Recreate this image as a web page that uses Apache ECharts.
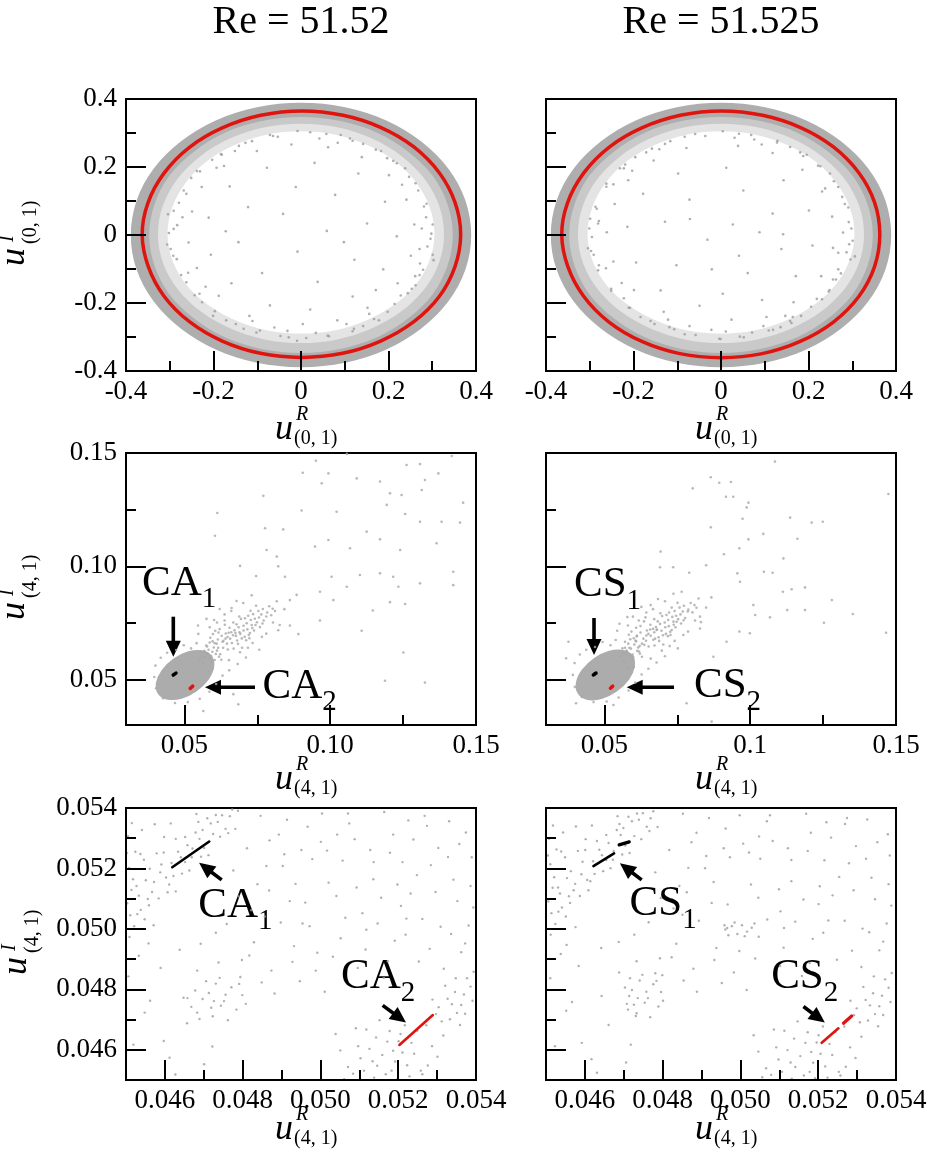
<!DOCTYPE html>
<html>
<head>
<meta charset="utf-8">
<script src="https://cdn.jsdelivr.net/npm/echarts@6/dist/echarts.min.js"></script>
<style>
html, body { margin: 0; padding: 0; background: #fff; }
#chart { width: 928px; height: 1159px; }
</style>
</head>
<body>
<div id="chart"></div>
<script>
// ---------- Titles ----------
const reynolds = ['51.52', '51.525'];

// ---------- Axis extents and ticks ----------
const ringRange = [-0.4, 0.4];
const ringMajor = [-0.4, -0.2, 0, 0.2, 0.4];
const ringMinor = [-0.3, -0.1, 0.1, 0.3];
const ringLabels = ['-0.4', '-0.2', '0', '0.2', '0.4'];

const midRange = [0.03, 0.15];
const midMajor = [0.05, 0.10, 0.15];
const midMinor = [0.075, 0.125];
const midLabelsLeft = ['0.05', '0.10', '0.15'];
const midLabelsRight = ['0.05', '0.1', '0.15'];

const zoomRange = [0.045, 0.054];
const zoomMajor = [0.046, 0.048, 0.050, 0.052, 0.054];
const zoomMinor = [0.047, 0.049, 0.051, 0.053];
const zoomLabels = ['0.046', '0.048', '0.050', '0.052', '0.054'];

// ---------- Top row: projection on (u(0,1)R, u(0,1)I) ----------
// edges of the dense trajectory band (same for both Re)
const ringOuter = [[0.389,0],[0.376,0.101],[0.337,0.195],[0.275,0.275],[0.195,0.337],[0.101,0.376],[0,0.389],[-0.101,0.376],[-0.195,0.337],[-0.275,0.275],[-0.337,0.195],[-0.376,0.101],[-0.389,0],[-0.376,-0.101],[-0.337,-0.195],[-0.275,-0.275],[-0.195,-0.337],[-0.101,-0.376],[0,-0.389],[0.101,-0.376],[0.195,-0.337],[0.275,-0.275],[0.337,-0.195],[0.376,-0.101]];
const ringInner = [[0.347,0],[0.335,0.090],[0.301,0.174],[0.245,0.245],[0.174,0.301],[0.090,0.335],[0,0.347],[-0.090,0.335],[-0.174,0.301],[-0.245,0.245],[-0.301,0.174],[-0.335,0.090],[-0.347,0],[-0.335,-0.090],[-0.301,-0.174],[-0.245,-0.245],[-0.174,-0.301],[-0.090,-0.335],[0,-0.347],[0.090,-0.335],[0.174,-0.301],[0.245,-0.245],[0.301,-0.174],[0.335,-0.090]];
const speckMid = [[0.327,0],[0.316,0.085],[0.283,0.164],[0.231,0.231],[0.164,0.283],[0.085,0.316],[0,0.327],[-0.085,0.316],[-0.164,0.283],[-0.231,0.231],[-0.283,0.164],[-0.316,0.085],[-0.327,0],[-0.315,-0.084],[-0.281,-0.161],[-0.228,-0.226],[-0.160,-0.276],[-0.083,-0.307],[0,-0.318],[0.083,-0.307],[0.160,-0.276],[0.228,-0.226],[0.281,-0.161],[0.315,-0.084]];
const speckIn = [[0.305,0],[0.295,0.079],[0.264,0.153],[0.216,0.216],[0.153,0.264],[0.079,0.295],[0,0.305],[-0.079,0.295],[-0.153,0.264],[-0.216,0.216],[-0.264,0.153],[-0.295,0.079],[-0.305,0],[-0.293,-0.078],[-0.260,-0.150],[-0.209,-0.209],[-0.146,-0.253],[-0.076,-0.281],[0,-0.290],[0.076,-0.281],[0.146,-0.253],[0.209,-0.209],[0.260,-0.150],[0.293,-0.078]];
// periodic orbits
const orbitTL = [[0.365,0.002],[0.352,0.096],[0.316,0.183],[0.258,0.259],[0.183,0.316],[0.096,0.352],[0.002,0.365],[-0.092,0.352],[-0.180,0.315],[-0.255,0.258],[-0.313,0.182],[-0.350,0.094],[-0.363,0.001],[-0.349,-0.093],[-0.313,-0.180],[-0.255,-0.255],[-0.180,-0.312],[-0.093,-0.348],[0.001,-0.360],[0.095,-0.348],[0.182,-0.312],[0.258,-0.255],[0.316,-0.181],[0.352,-0.093]];
const orbitTR = [[0.363,0.002],[0.351,0.096],[0.315,0.183],[0.257,0.259],[0.182,0.316],[0.095,0.352],[0.001,0.365],[-0.093,0.352],[-0.181,0.315],[-0.256,0.258],[-0.314,0.182],[-0.351,0.094],[-0.364,0.001],[-0.350,-0.093],[-0.314,-0.180],[-0.256,-0.256],[-0.181,-0.313],[-0.094,-0.349],[0.000,-0.361],[0.094,-0.349],[0.181,-0.313],[0.257,-0.256],[0.315,-0.181],[0.351,-0.093]];
const dotsTL = [[0.021,0.302],[-0.064,0.291],[0.112,0.284],[-0.142,0.262],[0.183,0.247],[-0.203,0.221],[0.238,0.196],[-0.251,0.168],[0.268,0.131],[-0.279,0.095],[0.286,0.052],[-0.291,0.018],[0.289,-0.034],[-0.284,-0.071],[0.271,-0.118],[-0.262,-0.139],[0.244,-0.171],[-0.226,-0.198],[0.198,-0.226],[-0.171,-0.251],[0.142,-0.268],[-0.102,-0.287],[0.061,-0.296],[-0.028,-0.301],[0.004,-0.262],[0.083,-0.251],[-0.118,-0.238],[0.152,-0.214],[-0.188,-0.179],[0.221,-0.142],[-0.238,-0.097],[0.251,-0.061],[-0.257,-0.022],[0.259,0.031],[-0.249,0.069],[0.241,0.104],[-0.227,0.141],[0.201,0.176],[-0.176,0.203],[0.139,0.229],[-0.101,0.247],[0.062,0.258],[-0.022,0.266],[0.031,0.212],[-0.078,0.198],[0.131,0.181],[-0.163,0.143],[0.192,0.098],[-0.211,0.051],[0.219,-0.004],[-0.206,-0.058],[0.188,-0.101],[-0.159,-0.142],[0.118,-0.181],[-0.071,-0.207],[0.021,-0.219],[-0.012,0.141],[0.078,0.118],[-0.121,0.082],[0.151,0.034],[-0.143,-0.021],[0.122,-0.073],[-0.089,-0.112],[0.038,-0.138],[-0.041,0.062],[0.059,0.012],[-0.008,-0.049],[0.098,-0.021],[-0.172,0.011],[0.171,-0.162],[-0.262,0.121],[0.281,0.084],[-0.298,-0.041],[0.272,-0.084],[-0.232,-0.173],[0.178,-0.251],[-0.131,-0.276],[0.034,-0.288],[-0.053,0.289],[0.091,0.294],[-0.183,0.238],[0.211,0.218],[-0.271,0.052],[0.298,0.004],[0.262,-0.148],[-0.201,-0.238],[0.118,-0.283],[-0.009,-0.311],[0.142,0.268],[-0.112,0.276],[0.247,0.171],[-0.238,0.188],[0.301,-0.058],[-0.304,0.061],
[0.287,0.092],[0.301,0.031],[0.296,-0.011],[0.279,-0.102],[0.253,-0.158],[0.214,-0.203],[0.167,-0.247],[0.121,-0.276],[0.064,-0.298],[0.012,-0.303],[-0.047,-0.297],[-0.094,-0.281],[-0.149,-0.262],[-0.197,-0.224],[-0.243,-0.177],[-0.274,-0.118],[-0.292,-0.061],[-0.302,0.006],[-0.291,0.071],[-0.268,0.131],[-0.231,0.187],[-0.181,0.236],[-0.127,0.271],[-0.071,0.294],[-0.008,0.306],[0.058,0.297],[0.118,0.277],[0.171,0.251],[0.219,0.211],[0.262,0.152],[0.276,0.019],[0.261,-0.121],[0.228,-0.178],[-0.061,-0.272],[-0.218,-0.152],[-0.283,0.029],[-0.193,0.198],[0.084,0.271],[0.231,0.148],[0.156,-0.232],[-0.031,-0.282],[0.271,-0.041],[-0.258,-0.111],[0.197,0.226],[-0.151,0.247],[0.104,-0.262],[-0.111,-0.253],[0.042,0.284],[0.303,-0.074],[-0.306,-0.028]];
const dotsTR = [[0.041,0.298],[-0.083,0.289],[0.129,0.277],[-0.158,0.254],[0.196,0.236],[-0.219,0.207],[0.249,0.181],[-0.262,0.151],[0.277,0.112],[-0.284,0.077],[0.292,0.038],[-0.295,-0.006],[0.287,-0.051],[-0.279,-0.089],[0.263,-0.131],[-0.251,-0.158],[0.231,-0.189],[-0.211,-0.214],[0.183,-0.238],[-0.152,-0.262],[0.119,-0.279],[-0.083,-0.292],[0.043,-0.299],[-0.004,-0.305],[0.024,-0.249],[0.104,-0.241],[-0.131,-0.226],[0.166,-0.198],[-0.199,-0.162],[0.229,-0.121],[-0.246,-0.078],[0.256,-0.038],[-0.261,0.008],[0.254,0.054],[-0.243,0.091],[0.231,0.128],[-0.212,0.161],[0.186,0.192],[-0.154,0.219],[0.118,0.241],[-0.079,0.256],[0.039,0.262],[0.012,0.198],[-0.098,0.181],[0.143,0.161],[-0.178,0.121],[0.201,0.072],[-0.214,0.024],[0.209,-0.031],[-0.194,-0.081],[0.171,-0.121],[-0.138,-0.163],[0.094,-0.191],[-0.049,-0.208],[0.004,-0.173],[0.051,0.131],[-0.072,0.104],[0.118,0.063],[-0.128,0.039],[0.138,-0.041],[-0.102,-0.089],[0.061,-0.112],[-0.021,-0.101],[0.027,0.031],[-0.031,-0.014],[0.088,0.008],[-0.071,0.047],[0.164,-0.241],[-0.246,0.149],[0.283,0.091],[-0.291,-0.058],[0.268,-0.101],[-0.222,-0.186],[0.161,-0.259],[-0.118,-0.271],[0.071,-0.287],[-0.036,0.291],[0.076,0.281],[-0.196,0.229],[0.222,0.204],[-0.281,0.034],[0.301,-0.017],[0.248,-0.162],[-0.184,-0.241],[0.136,-0.271],[0.011,-0.284],[0.158,0.259],[-0.128,0.268],[0.258,0.158],[-0.231,0.196],[0.296,-0.072],[-0.299,0.048],[0.142,0.002],[0.041,-0.061],
[0.291,0.081],[0.298,0.019],[0.293,-0.027],[0.274,-0.113],[0.246,-0.166],[0.206,-0.211],[0.158,-0.253],[0.109,-0.281],[0.052,-0.301],[-0.001,-0.306],[-0.058,-0.294],[-0.107,-0.277],[-0.161,-0.253],[-0.208,-0.214],[-0.251,-0.164],[-0.281,-0.104],[-0.297,-0.047],[-0.301,0.019],[-0.287,0.083],[-0.262,0.142],[-0.222,0.196],[-0.171,0.243],[-0.116,0.276],[-0.059,0.297],[0.004,0.305],[0.069,0.294],[0.128,0.272],[0.181,0.243],[0.227,0.202],[0.268,0.141],[0.279,0.007],[0.256,-0.131],[0.219,-0.188],[-0.072,-0.268],[-0.227,-0.141],[-0.279,0.041],[-0.203,0.189],[0.093,0.266],[0.238,0.137],[0.147,-0.238],[-0.022,-0.279],[0.268,-0.052],[-0.263,-0.098],[0.188,0.232],[-0.141,0.252],[0.097,-0.268],[-0.121,-0.249],[0.031,0.286],[0.306,-0.063],[-0.304,-0.039]];

// ---------- Middle row: projection on (u(4,1)R, u(4,1)I) ----------
// outline of the dense core of the cloud
const blobML = [[0.05921,0.06018],[0.05990,0.05563],[0.05798,0.05016],[0.05397,0.04518],[0.04899,0.04204],[0.04433,0.04160],[0.04125,0.04394],[0.04059,0.04848],[0.04248,0.05395],[0.04649,0.05894],[0.05146,0.06207],[0.05616,0.06252]];
const blobMR = [[0.05950,0.06050],[0.06010,0.05580],[0.05820,0.05020],[0.05410,0.04510],[0.04900,0.04190],[0.04430,0.04150],[0.04120,0.04400],[0.04060,0.04870],[0.04260,0.05420],[0.04670,0.05920],[0.05170,0.06230],[0.05640,0.06270]];
const tailML = [[0.0557,0.0623],[0.0712,0.0674],[0.0634,0.0671],[0.0781,0.0779],[0.0598,0.0701],[0.0689,0.0709],[0.0746,0.0826],[0.0583,0.0537],[0.0661,0.0709],[0.0725,0.0706],[0.0617,0.0708],[0.0803,0.0813],[0.0571,0.0599],[0.0698,0.0641],[0.0642,0.0704],[0.0759,0.0732],[0.0589,0.0685],[0.0677,0.0693],[0.0736,0.0789],[0.0623,0.0612],[0.0817,0.0846],[0.0604,0.0587],[0.0668,0.0752],[0.0731,0.0741],[0.0575,0.0651],[0.0694,0.0768],[0.0649,0.0633],[0.0772,0.0761],[0.0611,0.0659],[0.0703,0.0717],[0.0563,0.0571],[0.0754,0.0803],[0.0628,0.0694],[0.0684,0.0658],[0.0719,0.0782],[0.0596,0.0623],[0.0657,0.0681],[0.0791,0.0824],[0.0639,0.0742],[0.0707,0.0689],[0.0581,0.0614],[0.0742,0.0769],[0.0669,0.0637],[0.0615,0.0677],[0.0728,0.0763],[0.0553,0.0589],[0.0686,0.0731],[0.0646,0.0659],[0.0764,0.0788],[0.0601,0.0642],[0.0714,0.0749],[0.0672,0.0718],[0.0627,0.0588],[0.0739,0.0717],[0.0587,0.0664],[0.0697,0.0682],[0.0655,0.0729],[0.0769,0.0812],[0.0608,0.0613],[0.0721,0.0697],[0.0641,0.0681],[0.0784,0.0796],[0.0569,0.0627],[0.0679,0.0744],[0.0633,0.0641],[0.0749,0.0753],[0.0593,0.0578],[0.0708,0.0771],[0.0663,0.0662],[0.0621,0.0723],[0.0733,0.0728],[0.0578,0.0646],[0.0692,0.0702],[0.0652,0.0707],[0.0798,0.0784],[0.0612,0.0628],[0.0727,0.0804],[0.0681,0.0673],[0.0638,0.0761],[0.0756,0.0774],[0.0561,0.0604],[0.0703,0.0738],[0.0667,0.0696],[0.0619,0.0601],[0.0744,0.0741],[0.0597,0.0669],[0.0716,0.0722],[0.0648,0.0688],[0.0811,0.0803],[0.0586,0.0593],[0.0688,0.0779],[0.0631,0.0667],[0.0768,0.0748],[0.0606,0.0716],[0.0723,0.0683],[0.0675,0.0706],[0.0542,0.0661],[0.0523,0.0638],[0.0498,0.0652],[0.0472,0.0631],[0.0441,0.0619],[0.0419,0.0597],[0.0401,0.0562],[0.0397,0.0512],[0.0403,0.0462],[0.0427,0.0418],[0.0468,0.0397],[0.0512,0.0401],[0.0553,0.0416],[0.0586,0.0447],[0.0609,0.0481],[0.0631,0.0518],[0.0654,0.0541],[0.0683,0.0569],[0.0711,0.0598],[0.0757,0.0632],[0.0662,0.0816],[0.0602,0.0763],[0.0548,0.0702],[0.0827,0.0741],[0.0862,0.0851],
[0.0612,0.0752],[0.0661,0.0803],[0.0702,0.0838],[0.0587,0.0731],[0.0638,0.0788],[0.0691,0.0621],[0.0734,0.0662],[0.0781,0.0703],[0.0822,0.0718],[0.0653,0.0586],[0.0596,0.0548],[0.0718,0.0641],[0.0766,0.0689],[0.0804,0.0752],[0.0547,0.0739],[0.0576,0.0768],[0.0621,0.0812],[0.0679,0.0847],[0.0731,0.0872],[0.0843,0.0811],[0.0583,0.0632],[0.0604,0.0661],[0.0592,0.0604],[0.0571,0.0618],[0.0616,0.0641]];
const sparseML = [[0.1057,0.1496],[0.0951,0.1466],[0.0906,0.1413],[0.0994,0.1410],[0.1091,0.1388],[0.0971,0.1366],[0.1262,0.1447],[0.1308,0.1451],[0.1371,0.1410],[0.1417,0.1487],[0.1325,0.1381],[0.1171,0.1374],[0.1205,0.1322],[0.1245,0.1315],[0.1194,0.1271],[0.1456,0.1281],[0.1314,0.1337],[0.0771,0.1311],[0.0613,0.1235],[0.0605,0.1135],[0.0902,0.1246],[0.1022,0.1241],[0.1257,0.1231],[0.1308,0.1197],[0.1382,0.1197],[0.1445,0.1193],[0.0777,0.1168],[0.0839,0.1163],[0.1125,0.1153],[0.1171,0.1119],[0.0994,0.1116],[0.0948,0.1087],[0.1365,0.1102],[0.1068,0.1080],[0.0782,0.1072],[0.0817,0.1043],[0.1240,0.1072],[0.0691,0.1002],[0.0746,0.0957],[0.1005,0.0954],[0.1102,0.0962],[0.1171,0.0969],[0.1216,0.0954],[0.1234,0.0910],[0.1308,0.0925],[0.1422,0.0976],[0.1422,0.0917],[0.0885,0.0874],[0.0965,0.0888],[0.1011,0.0851],[0.1057,0.0910],[0.1205,0.0842],[0.1257,0.0834],[0.1146,0.0805],[0.0965,0.0761],[0.0862,0.0739],[0.0891,0.0701],[0.1108,0.0716],[0.1251,0.0620],[0.1188,0.0495],[0.1325,0.0487],[0.0685,0.0391],[0.0565,0.0362],[0.0668,0.0436],[0.0822,0.1000],[0.0845,0.0954]];
const tailMR = [[0.0562,0.0638],[0.0718,0.0692],[0.0629,0.0659],[0.0786,0.0801],[0.0593,0.0712],[0.0681,0.0721],[0.0751,0.0839],[0.0579,0.0551],[0.0667,0.0724],[0.0731,0.0719],[0.0612,0.0694],[0.0809,0.0829],[0.0574,0.0613],[0.0702,0.0655],[0.0646,0.0717],[0.0763,0.0748],[0.0584,0.0698],[0.0674,0.0681],[0.0741,0.0803],[0.0619,0.0624],[0.0823,0.0858],[0.0599,0.0601],[0.0671,0.0767],[0.0737,0.0756],[0.0571,0.0667],[0.0698,0.0781],[0.0652,0.0646],[0.0777,0.0772],[0.0607,0.0673],[0.0709,0.0731],[0.0566,0.0584],[0.0758,0.0818],[0.0624,0.0708],[0.0688,0.0671],[0.0722,0.0796],[0.0591,0.0637],[0.0659,0.0694],[0.0796,0.0838],[0.0636,0.0757],[0.0711,0.0702],[0.0577,0.0627],[0.0746,0.0782],[0.0672,0.0651],[0.0611,0.0691],[0.0733,0.0777],[0.0556,0.0602],[0.0691,0.0746],[0.0643,0.0672],[0.0769,0.0801],[0.0603,0.0655],[0.0719,0.0763],[0.0677,0.0732],[0.0629,0.0601],[0.0744,0.0731],[0.0589,0.0678],[0.0701,0.0696],[0.0658,0.0742],[0.0773,0.0826],[0.0613,0.0627],[0.0726,0.0711],[0.0644,0.0695],[0.0788,0.0809],[0.0571,0.0641],[0.0683,0.0757],[0.0637,0.0654],[0.0753,0.0767],[0.0596,0.0592],[0.0713,0.0785],[0.0668,0.0676],[0.0624,0.0737],[0.0738,0.0742],[0.0582,0.0659],[0.0696,0.0716],[0.0657,0.0721],[0.0802,0.0797],[0.0616,0.0642],[0.0731,0.0818],[0.0686,0.0687],[0.0641,0.0775],[0.0761,0.0788],[0.0564,0.0618],[0.0707,0.0752],[0.0671,0.0709],[0.0622,0.0615],[0.0748,0.0755],[0.0601,0.0683],[0.0721,0.0736],[0.0651,0.0702],[0.0816,0.0817],[0.0588,0.0607],[0.0692,0.0793],[0.0634,0.0681],[0.0772,0.0762],[0.0609,0.0729],[0.0727,0.0697],[0.0679,0.0719],[0.0539,0.0675],[0.0521,0.0652],[0.0494,0.0666],[0.0468,0.0644],[0.0438,0.0632],[0.0416,0.0611],[0.0398,0.0573],[0.0392,0.0521],[0.0399,0.0468],[0.0423,0.0424],[0.0463,0.0401],[0.0508,0.0404],[0.0549,0.0421],[0.0583,0.0452],[0.0606,0.0487],[0.0628,0.0523],[0.0651,0.0548],[0.0679,0.0576],[0.0708,0.0603],[0.0752,0.0638],[0.0659,0.0829],[0.0598,0.0778],[0.0544,0.0716],[0.0831,0.0754],[0.0867,0.0863],
[0.0618,0.0761],[0.0667,0.0811],[0.0708,0.0846],[0.0581,0.0739],[0.0644,0.0796],[0.0697,0.0628],[0.0741,0.0671],[0.0787,0.0712],[0.0828,0.0726],[0.0659,0.0593],[0.0601,0.0556],[0.0724,0.0648],[0.0771,0.0697],[0.0811,0.0761],[0.0552,0.0747],[0.0579,0.0776],[0.0627,0.0821],[0.0684,0.0856],[0.0737,0.0879],[0.0849,0.0818],[0.0586,0.0641],[0.0609,0.0669],[0.0597,0.0611],[0.0576,0.0626],[0.0621,0.0648]];
const sparseMR = [[0.1085,0.1462],[0.0803,0.1344],[0.0865,0.1393],[0.0894,0.1369],[0.0934,0.1372],[0.0917,0.1307],[0.0942,0.1307],[0.0994,0.1281],[0.0988,0.1260],[0.0974,0.1210],[0.0865,0.1172],[0.1137,0.1215],[0.1211,0.1193],[0.1249,0.1197],[0.1474,0.1319],[0.1045,0.1143],[0.1162,0.1122],[0.0994,0.1119],[0.0963,0.1080],[0.0910,0.1053],[0.1114,0.1035],[0.0693,0.1065],[0.0691,0.0996],[0.0736,0.0996],[0.0791,0.0972],[0.0849,0.1005],[0.1047,0.0976],[0.1077,0.0972],[0.0956,0.0969],[0.0965,0.0932],[0.1112,0.0888],[0.1142,0.0899],[0.1188,0.0907],[0.1280,0.0851],[0.1188,0.0807],[0.1127,0.0807],[0.1068,0.0775],[0.1011,0.0829],[0.1017,0.0785],[0.0999,0.0705],[0.0963,0.0712],[0.0919,0.0667],[0.1253,0.0751],[0.1352,0.0790],[0.1466,0.0707],[0.0874,0.0601],[0.0868,0.0315],[0.0377,0.0667],[0.0369,0.0594],[0.0403,0.0396],[0.0531,0.0388],[0.0782,0.0396],[0.0828,0.0778],[0.0765,0.0888]];

// ---------- Attractors (black) and saddles (red) ----------
const ca1 = [[0.04619,0.05204],[0.04714,0.05289]];
const ca2 = [[0.05203,0.04616],[0.05289,0.04715]];
const cs1 = [[[0.04622,0.05208],[0.04675,0.05250]], [[0.04688,0.05278],[0.04714,0.05288]]];
const cs2 = [[[0.05209,0.04623],[0.05252,0.04671]], [[0.05265,0.04688],[0.05286,0.04712]]];

// ---------- Bottom row: close-up ----------
const dotsBL = [[0.04503,0.05085],[0.04611,0.05147],[0.04527,0.05142],[0.04689,0.05298],[0.04556,0.05099],[0.04742,0.05305],[0.04518,0.05164],[0.04634,0.05255],[0.04572,0.05155],[0.04718,0.05349],[0.04508,0.05202],[0.04663,0.05193],[0.04591,0.05213],[0.04767,0.05373],[0.04538,0.05063],[0.04652,0.05304],[0.04603,0.05170],[0.04701,0.05268],[0.04524,0.05255],[0.04679,0.05319],[0.04561,0.05199],[0.04731,0.05377],[0.04511,0.05045],[0.04622,0.05175],[0.04584,0.05101],[0.04756,0.05331],[0.04546,0.05229],[0.04671,0.05266],[0.04597,0.05253],[0.04709,0.05366],[0.04533,0.05110],[0.04644,0.05183],[0.04567,0.05122],[0.04724,0.05314],[0.04502,0.05251],[0.04617,0.05218],[0.04579,0.05250],[0.04693,0.05239],[0.04551,0.05161],[0.04658,0.05277],[0.04514,0.05129],[0.04747,0.05376],[0.04628,0.05298],[0.04541,0.05327],[0.04686,0.05354],[0.04607,0.05121],[0.04773,0.05395],[0.04529,0.05049],[0.04641,0.05237],[0.04588,0.05187],[0.04712,0.05244],[0.04505,0.05307],[0.04669,0.05237],[0.04559,0.05078],[0.04736,0.05354],[0.04521,0.05009],[0.04598,0.05304],[0.04681,0.05380],[0.04537,0.05248],[0.04652,0.05221],[0.04509,0.04973],[0.04574,0.05346],[0.04615,0.05349],[0.04788,0.05391],[0.04763,0.05317],[0.04697,0.05327],[0.04548,0.05032],[0.04628,0.05124],[0.04515,0.05350],
[0.04893,0.05312],[0.05137,0.05221],[0.05268,0.05374],[0.04961,0.05087],[0.05342,0.05163],[0.04817,0.04912],[0.05074,0.05349],[0.05219,0.04981],[0.04903,0.05208],[0.05381,0.05011],[0.04988,0.04862],[0.05156,0.05103],[0.04846,0.05374],[0.05303,0.05268],[0.05021,0.05153],[0.04759,0.05016],[0.05187,0.05312],[0.04932,0.04943],[0.05362,0.04923],[0.05096,0.04871],[0.04868,0.05127],[0.05248,0.05178],[0.05004,0.05382],[0.04794,0.04841],[0.05331,0.05356],[0.05118,0.04997],[0.04951,0.05261],[0.05207,0.05076],[0.04882,0.04786],[0.05389,0.05237],[0.05057,0.05226],[0.04811,0.05267],[0.05281,0.04934],[0.04972,0.05009],[0.05164,0.05387],[0.04914,0.05361],[0.05352,0.05092],[0.05032,0.04908],[0.04776,0.05193],[0.05239,0.05296],[0.05093,0.05137],[0.04857,0.05041],[0.05317,0.04868],[0.05001,0.05288],[0.05173,0.04893],[0.04936,0.05149],[0.05374,0.05319],[0.05128,0.05261],[0.04829,0.04956],[0.05262,0.05033],[0.04979,0.05231],[0.05198,0.05147],[0.04898,0.05021],[0.05336,0.04983],[0.05064,0.05037],[0.04781,0.05331],[0.05226,0.05359],[0.05011,0.04792],[0.05147,0.05018],[0.04869,0.05293],[0.05296,0.05122],[0.04947,0.04827],[0.05386,0.05142],[0.05088,0.05297],[0.04838,0.05148],[0.05253,0.04892],[0.05041,0.05109],[0.05179,0.05252],[0.04921,0.05092],[0.05357,0.05281],[0.04798,0.04897],[0.05116,0.04932],[0.04967,0.05338],[0.05309,0.05007],[0.05052,0.04969],[0.05211,0.05221],[0.04874,0.04862],[0.05372,0.04952],[0.05136,0.05164],[0.04907,0.05247],[0.05284,0.05211],[0.04992,0.04921],[0.05163,0.04838],[0.04822,0.05062],[0.05328,0.05238],[0.05071,0.05382],[0.04954,0.05018],[0.05232,0.05117],[0.04861,0.05208],[0.05393,0.05071],[0.05017,0.05259],[0.05191,0.04961],[0.04789,0.05108],[0.05274,0.05341],[0.05108,0.05052],[0.04928,0.04891],[0.05348,0.04837],[0.05043,0.05312],[0.04849,0.04823],[0.05221,0.05034],
[0.04562,0.04762],[0.04638,0.04931],[0.04519,0.04617],[0.04701,0.04552],[0.04589,0.04871],[0.04657,0.04688],[0.04533,0.04911],[0.04731,0.04987],[0.04612,0.04574],[0.04548,0.04723],[0.04683,0.04862],[0.04597,0.04629],[0.04722,0.04611],[0.04571,0.05012],[0.04648,0.04772],[0.04506,0.04843],[0.04692,0.04951],[0.04627,0.04518],[0.04558,0.04952],[0.04738,0.04889],
[0.04668,0.04742],[0.04713,0.04788],[0.04689,0.04702],[0.04752,0.04761],[0.04731,0.04819],[0.04697,0.04768],[0.04784,0.04733],[0.04723,0.04711],[0.04771,0.04807],[0.04678,0.04796],[0.04744,0.04746],[0.04799,0.04781],[0.04706,0.04827],[0.04762,0.04698],[0.04726,0.04761],[0.04808,0.04752],[0.04683,0.04723],[0.04741,0.04838],[0.04719,0.04739],[0.04791,0.04818],[0.04658,0.04771],[0.04756,0.04782],
[0.05183,0.04531],[0.05097,0.04612],[0.05241,0.04587],[0.05138,0.04508],[0.05206,0.04652],[0.05071,0.04543],[0.05262,0.04519],[0.05159,0.04583],[0.05118,0.04667],[0.05223,0.04549],[0.05051,0.04598],[0.05287,0.04612],[0.05172,0.04627],[0.05134,0.04562],[0.05197,0.04502],[0.05084,0.04521],[0.05249,0.04663],[0.05211,0.04591],[0.05103,0.04572],[0.05276,0.04548],[0.05152,0.04698],[0.05192,0.04561],[0.05039,0.04652],[0.05234,0.04623],[0.05126,0.04603],[0.05301,0.04577],[0.05168,0.04519],[0.05217,0.04681],[0.05091,0.04671],[0.05258,0.04531],[0.05143,0.04641],[0.05187,0.04597],[0.05316,0.04647],[0.05061,0.04503],[0.05229,0.04512],[0.05112,0.04531],[0.05201,0.04628],[0.05272,0.04681],[0.05146,0.04547],[0.05178,0.04662],
[0.05297,0.04718],[0.05338,0.04751],[0.05312,0.04694],[0.05369,0.04783],[0.05351,0.04722],[0.05386,0.04809],[0.05327,0.04769],[0.05362,0.04748],[0.05391,0.04762],[0.05304,0.04741],[0.05377,0.04837],[0.05346,0.04791],[0.05288,0.04766],[0.05359,0.04682],[0.05321,0.04812],[0.05394,0.04858],[0.05333,0.04701],[0.05372,0.04719]];
const dotsBR = [[0.04506,0.05091],[0.04614,0.05158],[0.04531,0.05137],[0.04692,0.05311],[0.04559,0.05108],[0.04745,0.05297],[0.04521,0.05171],[0.04637,0.05262],[0.04575,0.05149],[0.04721,0.05356],[0.04511,0.05214],[0.04666,0.05201],[0.04594,0.05222],[0.04769,0.05366],[0.04541,0.05071],[0.04655,0.05311],[0.04606,0.05162],[0.04704,0.05276],[0.04527,0.05263],[0.04682,0.05327],[0.04564,0.05191],[0.04734,0.05382],[0.04514,0.05052],[0.04625,0.05182],[0.04587,0.05109],[0.04759,0.05338],[0.04549,0.05237],[0.04674,0.05258],[0.04601,0.05261],[0.04712,0.05371],[0.04536,0.05117],[0.04647,0.05191],[0.04571,0.05128],[0.04727,0.05307],[0.04505,0.05243],[0.04621,0.05224],[0.04582,0.05258],[0.04696,0.05246],[0.04554,0.05168],[0.04661,0.05284],[0.04517,0.05136],[0.04749,0.05383],[0.04631,0.05291],[0.04544,0.05319],[0.04689,0.05347],[0.04609,0.05128],[0.04776,0.05389],[0.04532,0.05057],[0.04644,0.05244],[0.04591,0.05181],[0.04715,0.05251],[0.04508,0.05298],[0.04672,0.05229],[0.04562,0.05086],[0.04739,0.05361],[0.04524,0.05016],[0.04602,0.05297],[0.04684,0.05373],[0.04539,0.05256],[0.04655,0.05228],[0.04512,0.04981],[0.04577,0.05339],[0.04618,0.05342],[0.04766,0.05324],[0.04699,0.05334],[0.04551,0.05041],[0.04518,0.05342],
[0.04887,0.05318],[0.05131,0.05228],[0.05274,0.05367],[0.04967,0.05081],[0.05337,0.05169],[0.04823,0.04906],[0.05068,0.05356],[0.05213,0.04987],[0.04909,0.05201],[0.05376,0.05018],[0.04983,0.04856],[0.05162,0.05097],[0.04852,0.05381],[0.05297,0.05274],[0.05027,0.05147],[0.04764,0.05022],[0.05181,0.05318],[0.04938,0.04937],[0.05357,0.04929],[0.05102,0.04877],[0.04862,0.05121],[0.05254,0.05172],[0.04998,0.05376],[0.04799,0.04847],[0.05326,0.05362],[0.05112,0.05003],[0.04957,0.05267],[0.05201,0.05082],[0.04888,0.04792],[0.05384,0.05243],[0.05051,0.05232],[0.04817,0.05261],[0.05287,0.04928],[0.04966,0.05003],[0.05169,0.05381],[0.04919,0.05367],[0.05346,0.05098],[0.05038,0.04902],[0.04781,0.05187],[0.05233,0.05302],[0.05099,0.05131],[0.04851,0.05047],[0.05311,0.04874],[0.05007,0.05282],[0.05178,0.04887],[0.04931,0.05155],[0.05379,0.05313],[0.05122,0.05267],[0.04835,0.04951],[0.05268,0.05027],[0.04973,0.05237],[0.05204,0.05141],[0.04893,0.05027],[0.05331,0.04989],[0.05069,0.05031],[0.04787,0.05337],[0.05221,0.05353],[0.05016,0.04798],[0.05141,0.05024],[0.04874,0.05287],[0.05291,0.05128],[0.04952,0.04821],[0.05381,0.05148],[0.05083,0.05291],[0.04843,0.05142],[0.05248,0.04898],[0.05046,0.05103],[0.05173,0.05258],[0.04926,0.05086],[0.05352,0.05287],[0.04793,0.04903],[0.05111,0.04938],[0.04962,0.05332],[0.05314,0.05001],[0.05047,0.04974],[0.05216,0.05227],[0.04879,0.04868],[0.05367,0.04958],[0.05131,0.05158],[0.04912,0.05241],[0.05279,0.05217],[0.04997,0.04927],[0.05158,0.04844],[0.04828,0.05068],[0.05323,0.05232],[0.05076,0.05376],[0.04959,0.05012],[0.05237,0.05111],[0.04866,0.05202],[0.05388,0.05077],[0.05022,0.05253],[0.05186,0.04967],[0.04795,0.05102],[0.05269,0.05347],[0.05103,0.05058],[0.04933,0.04897],[0.05343,0.04843],[0.05048,0.05306],[0.04854,0.04829],[0.05226,0.05028],
[0.04961,0.04998],[0.04978,0.05009],[0.04992,0.04983],[0.05004,0.05012],[0.05017,0.04991],[0.05029,0.05004],[0.04985,0.05021],[0.05011,0.04976],[0.04969,0.04979],[0.05036,0.05018],
[0.04567,0.04758],[0.04642,0.04937],[0.04523,0.04612],[0.04706,0.04558],[0.04584,0.04877],[0.04661,0.04682],[0.04538,0.04917],[0.04727,0.04981],[0.04617,0.04569],[0.04552,0.04729],[0.04688,0.04856],[0.04592,0.04623],[0.04718,0.04617],[0.04576,0.05006],[0.04643,0.04778],[0.04511,0.04837],[0.04687,0.04957],[0.04631,0.04524],[0.04553,0.04947],[0.04733,0.04893],
[0.04708,0.04752],[0.04721,0.04798],[0.04731,0.04712],[0.04762,0.04771],[0.04741,0.04829],[0.04714,0.04778],[0.04789,0.04743],[0.04733,0.04721],[0.04776,0.04817],[0.04703,0.04806],[0.04754,0.04756],[0.04796,0.04791],[0.04716,0.04837],[0.04768,0.04708],[0.04736,0.04771],[0.04801,0.04762],[0.04711,0.04733],[0.04748,0.04848],[0.04726,0.04749],[0.04784,0.04828],[0.04781,0.04853],[0.04758,0.04792],
[0.05178,0.04527],[0.05092,0.04608],[0.05236,0.04583],[0.05132,0.04504],[0.05201,0.04648],[0.05066,0.04539],[0.05257,0.04515],[0.05154,0.04579],[0.05113,0.04663],[0.05218,0.04545],[0.05046,0.04594],[0.05282,0.04608],[0.05167,0.04623],[0.05129,0.04558],[0.05192,0.04506],[0.05079,0.04517],[0.05244,0.04659],[0.05206,0.04587],[0.05098,0.04568],[0.05271,0.04544],[0.05147,0.04694],[0.05187,0.04557],[0.05034,0.04648],[0.05229,0.04619],[0.05121,0.04599],[0.05296,0.04573],[0.05163,0.04515],[0.05212,0.04677],[0.05086,0.04667],[0.05253,0.04527],[0.05138,0.04637],[0.05182,0.04593],[0.05311,0.04643],[0.05056,0.04509],[0.05224,0.04508],[0.05107,0.04527],[0.05196,0.04624],[0.05267,0.04677],[0.05141,0.04543],[0.05173,0.04658],
[0.05292,0.04714],[0.05333,0.04747],[0.05307,0.04691],[0.05364,0.04779],[0.05346,0.04718],[0.05381,0.04805],[0.05322,0.04765],[0.05357,0.04744],[0.05386,0.04758],[0.05299,0.04737],[0.05372,0.04833],[0.05341,0.04787],[0.05283,0.04762],[0.05354,0.04678],[0.05316,0.04808],[0.05389,0.04854],[0.05328,0.04697],[0.05367,0.04715]];

// ---------- Annotations: arrows [x1, y1, x2(tip), y2(tip)] and labels ----------
const arrowsML = [[0.04622,0.07778,0.04622,0.06013],[0.07423,0.04663,0.05709,0.04663]];
const arrowsMR = [[0.04646,0.07721,0.04646,0.06088],[0.07389,0.04663,0.05767,0.04663]];
const arrowsBL = [[0.04746,0.05162,0.04688,0.05219],[0.05160,0.04747,0.05220,0.04690]];
const arrowsBR = [[0.04746,0.05162,0.04690,0.05217],[0.05162,0.04743,0.05217,0.04690]];
const labelsCA = [['CA','1'],['CA','2']];
const labelsCS = [['CS','1'],['CS','2']];
const labelPosML = [[0.03549,0.09234],[0.07680,0.04703]];
const labelPosMR = [[0.03960,0.09176],[0.08074,0.04720]];
const labelPosBL = [[0.04686,0.05078],[0.05053,0.04841]];
const labelPosBR = [[0.04715,0.05082],[0.05079,0.04841]];

// ---------- Rendering ----------
const SERIF = '"Liberation Serif", "Times New Roman", Times, serif';
const BAND = '#aeaeae';
const BLOB = '#acacac';
const DOT = '#9c9c9c';
const RED = '#e0140f';
const W = 350, H = 272;

const measureCtx = document.createElement('canvas').getContext('2d');
function textWidth(s, font) { measureCtx.font = font; return measureCtx.measureText(s).width; }

function tickText(vals, labels) {
  return function (v) {
    const k = vals.findIndex(t => Math.abs(t - v) < 1e-9);
    return k < 0 ? '' : labels[k];
  };
}

const panels = [
  { left: 126, top: 99,  xr: ringRange, yr: ringRange, xt: [ringMajor, ringMinor, ringLabels], yt: [ringMajor, ringMinor, ringLabels], yLab: true,  sub: '(0, 1)' },
  { left: 546, top: 99,  xr: ringRange, yr: ringRange, xt: [ringMajor, ringMinor, ringLabels], yt: [ringMajor, ringMinor, ringLabels], yLab: false, sub: '(0, 1)' },
  { left: 126, top: 453, xr: midRange,  yr: midRange,  xt: [midMajor, midMinor, midLabelsLeft], yt: [midMajor, midMinor, midLabelsLeft], yLab: true,  sub: '(4, 1)' },
  { left: 546, top: 453, xr: midRange,  yr: midRange,  xt: [midMajor, midMinor, midLabelsRight], yt: [midMajor, midMinor, midLabelsLeft], yLab: false, sub: '(4, 1)' },
  { left: 126, top: 808, xr: zoomRange, yr: zoomRange, xt: [zoomMajor, zoomMinor, zoomLabels], yt: [zoomMajor, zoomMinor, zoomLabels], yLab: true,  sub: '(4, 1)' },
  { left: 546, top: 808, xr: zoomRange, yr: zoomRange, xt: [zoomMajor, zoomMinor, zoomLabels], yt: [zoomMajor, zoomMinor, zoomLabels], yLab: false, sub: '(4, 1)' }
];

const grids = [], xAxes = [], yAxes = [];
const tickStyle = { color: '#000', width: 2 };
const labelStyle = { fontFamily: SERIF, fontSize: 27, color: '#000' };

panels.forEach((p, i) => {
  grids.push({ left: p.left, top: p.top, width: W, height: H, show: true, borderColor: '#000', borderWidth: 2, backgroundColor: 'transparent', containLabel: false, outerBoundsMode: 'none' });
  // main axes: frame line, long ticks, labels
  xAxes.push({ type: 'value', gridIndex: i, min: p.xr[0], max: p.xr[1], position: 'bottom', z: 10,
    axisLine: { show: true, onZero: false, lineStyle: tickStyle },
    axisTick: { show: true, inside: true, length: 20, customValues: p.xt[0], lineStyle: tickStyle },
    axisLabel: Object.assign({ show: true, margin: 7, customValues: p.xt[0], formatter: tickText(p.xt[0], p.xt[2]) }, labelStyle),
    splitLine: { show: false } });
  // minor ticks
  xAxes.push({ type: 'value', gridIndex: i, min: p.xr[0], max: p.xr[1], position: 'bottom', z: 10,
    axisLine: { show: false, onZero: false },
    axisTick: { show: true, inside: true, length: 10, customValues: p.xt[1], lineStyle: tickStyle },
    axisLabel: { show: false }, splitLine: { show: false } });
  yAxes.push({ type: 'value', gridIndex: i, min: p.yr[0], max: p.yr[1], position: 'left', z: 10,
    axisLine: { show: true, onZero: false, lineStyle: tickStyle },
    axisTick: { show: true, inside: true, length: 20, customValues: p.yt[0], lineStyle: tickStyle },
    axisLabel: Object.assign({ show: p.yLab, margin: 9, customValues: p.yt[0], formatter: tickText(p.yt[0], p.yt[2]) }, labelStyle),
    splitLine: { show: false } });
  yAxes.push({ type: 'value', gridIndex: i, min: p.yr[0], max: p.yr[1], position: 'left', z: 10,
    axisLine: { show: false, onZero: false },
    axisTick: { show: true, inside: true, length: 10, customValues: p.yt[1], lineStyle: tickStyle },
    axisLabel: { show: false }, splitLine: { show: false } });
});

function axes(i) { return { xAxisIndex: 2 * i, yAxisIndex: 2 * i }; }

// closed smooth curve through the panel's coordinate system (filled or stroked)
function loopSeries(i, pts, style, smooth) {
  return Object.assign({ type: 'custom', data: pts, silent: true, animation: false,
    renderItem: (params, api) => params.dataIndex !== 0 ? null : {
      type: 'polygon',
      shape: { points: pts.map(q => api.coord(q)), smooth: smooth || 0.34 },
      style: style
    } }, axes(i));
}
function dotSeries(i, pts, size, color) {
  return Object.assign({ type: 'scatter', data: pts, symbolSize: size || 2.6, silent: true, animation: false, clip: true,
    itemStyle: { color: color || DOT } }, axes(i));
}
function segSeries(i, pts, color, width) {
  return Object.assign({ type: 'line', data: pts, symbol: 'none', silent: true, animation: false,
    lineStyle: { color: color, width: width, cap: 'round' } }, axes(i));
}
function arrowSeries(i, arrows) {
  return Object.assign({ type: 'custom', data: arrows, silent: true, animation: false,
    encode: { x: [0, 2], y: [1, 3] },
    renderItem: (params, api) => {
      const a = api.coord([api.value(0), api.value(1)]);
      const b = api.coord([api.value(2), api.value(3)]);
      const dx = b[0] - a[0], dy = b[1] - a[1], L = Math.hypot(dx, dy);
      const ux = dx / L, uy = dy / L, hl = 16, hw = 7.5;
      const bx = b[0] - ux * hl, by = b[1] - uy * hl;
      return { type: 'group', children: [
        { type: 'line', shape: { x1: a[0], y1: a[1], x2: bx + ux * 2, y2: by + uy * 2 }, style: { stroke: '#000', lineWidth: 3.6 } },
        { type: 'polygon', shape: { points: [[b[0], b[1]], [bx - uy * hw, by + ux * hw], [bx + uy * hw, by - ux * hw]] }, style: { fill: '#000' } }
      ] };
    } }, axes(i));
}
function labelSeries(i, pos, texts) {
  return Object.assign({ type: 'custom', data: pos, silent: true, animation: false,
    renderItem: (params, api) => {
      const p = api.coord([api.value(0), api.value(1)]);
      const t = texts[params.dataIndex];
      const mainFont = '43px ' + SERIF, subFont = '29px ' + SERIF;
      const w = textWidth(t[0], mainFont);
      return { type: 'group', children: [
        { type: 'text', x: p[0], y: p[1], style: { text: t[0], font: mainFont, fill: '#000', align: 'left', verticalAlign: 'middle', textAlign: 'left', textVerticalAlign: 'middle' } },
        { type: 'text', x: p[0] + w, y: p[1] + 16, style: { text: t[1], font: subFont, fill: '#000', align: 'left', verticalAlign: 'middle', textAlign: 'left', textVerticalAlign: 'middle' } }
      ] };
    } }, axes(i));
}

function ringPanel(i, dots, orbit) {
  return [
    loopSeries(i, ringOuter, { fill: BAND }),
    loopSeries(i, ringInner, { fill: '#c9c9c9' }),
    loopSeries(i, speckMid, { fill: '#e4e4e4' }),
    loopSeries(i, speckIn, { fill: '#ffffff' }),
    dotSeries(i, dots, 2.6),
    loopSeries(i, orbit, { fill: 'none', stroke: RED, lineWidth: 3.5 })
  ];
}

const MIDDOT = '#a8a8a8';
const series = [].concat(
  ringPanel(0, dotsTL, orbitTL),
  ringPanel(1, dotsTR, orbitTR),
  [
    loopSeries(2, blobML, { fill: BLOB, stroke: BLOB, lineWidth: 2 }, 0.3), dotSeries(2, tailML, 2.6, MIDDOT), dotSeries(2, sparseML, 2.6, MIDDOT),
    segSeries(2, ca1, '#000', 3.5), segSeries(2, ca2, RED, 3.5),
    arrowSeries(2, arrowsML), labelSeries(2, labelPosML, labelsCA),
    loopSeries(3, blobMR, { fill: BLOB, stroke: BLOB, lineWidth: 2 }, 0.3), dotSeries(3, tailMR, 2.6, MIDDOT), dotSeries(3, sparseMR, 2.6, MIDDOT),
    segSeries(3, cs1[0], '#000', 3.5), segSeries(3, cs1[1], '#000', 3.5), segSeries(3, cs2[0], RED, 3.5), segSeries(3, cs2[1], RED, 3.5),
    arrowSeries(3, arrowsMR), labelSeries(3, labelPosMR, labelsCS),
    dotSeries(4, dotsBL, 2.4), segSeries(4, ca1, '#000', 2.6), segSeries(4, ca2, RED, 2.6),
    arrowSeries(4, arrowsBL), labelSeries(4, labelPosBL, labelsCA),
    dotSeries(5, dotsBR, 2.4), segSeries(5, cs1[0], '#000', 2.6), segSeries(5, cs1[1], '#000', 3.2), segSeries(5, cs2[0], RED, 2.6), segSeries(5, cs2[1], RED, 3.2),
    arrowSeries(5, arrowsBR), labelSeries(5, labelPosBR, labelsCS)
  ]
);

// axis titles: u with stacked superscript and subscript
function txt(tx, ty, s, font) {
  return { type: 'text', x: tx, y: ty, style: { text: s, font: font, fill: '#000', align: 'left', verticalAlign: 'middle', textAlign: 'left', textVerticalAlign: 'middle' } };
}
function xTitle(x, y, sub) {
  return { type: 'group', x: x, y: y, children: [
    txt(0, -12, 'u', 'italic 36px ' + SERIF),
    txt(21, -27, 'R', 'italic 20px ' + SERIF),
    txt(19, -3, sub, '20px ' + SERIF)
  ] };
}
function yTitle(x, y, sub) {
  return { type: 'group', x: x, y: y, rotation: Math.PI / 2, children: [
    txt(0, -12, 'u', 'italic 36px ' + SERIF),
    txt(24, -19, 'I', 'italic 20px ' + SERIF),
    txt(22, 4, sub, '20px ' + SERIF)
  ] };
}

const graphic = [];
reynolds.forEach((re, k) => {
  const cx = panels[k].left + W / 2;
  graphic.push({ type: 'text', x: cx, y: 22, style: { text: 'Re = ' + re, font: '40px ' + SERIF, fill: '#000', align: 'center', verticalAlign: 'middle', textAlign: 'center', textVerticalAlign: 'middle' } });
});
const xTitleBase = [442, 442, 792, 792, 1142, 1142];
panels.forEach((p, i) => {
  graphic.push(xTitle(p.left + W / 2 - 26, xTitleBase[i], p.sub));
  if (p.yLab) {
    graphic.push(yTitle(i === 4 ? 29 : 27, p.top + H / 2 + 31, p.sub));
  }
});

const chart = echarts.init(document.getElementById('chart'), null, { renderer: 'canvas' });
chart.setOption({
  animation: false,
  backgroundColor: '#fff',
  grid: grids,
  xAxis: xAxes,
  yAxis: yAxes,
  series: series,
  graphic: graphic
});
</script>
</body>
</html>
